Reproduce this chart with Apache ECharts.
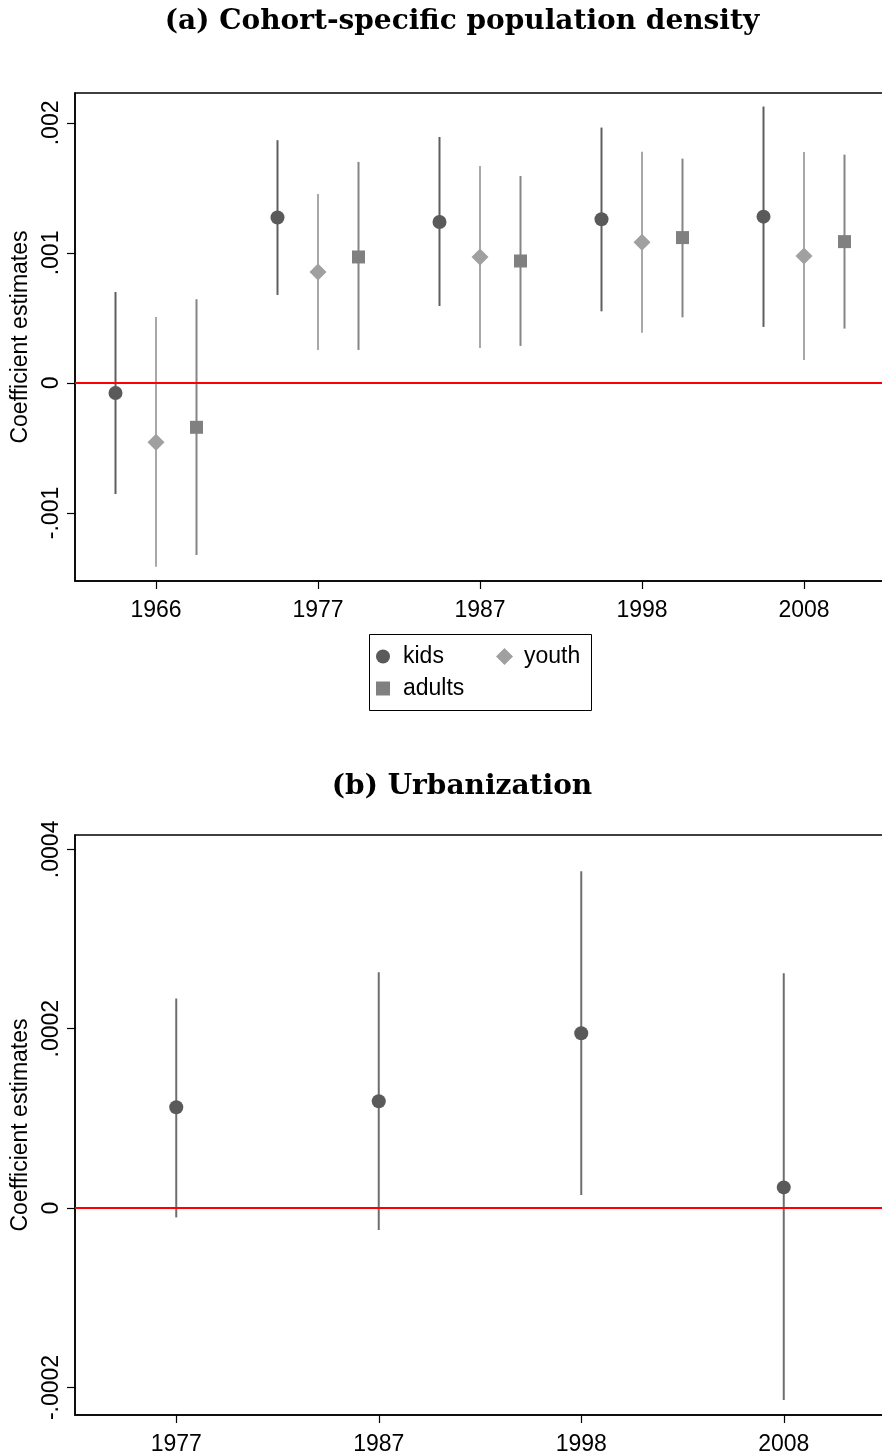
<!DOCTYPE html>
<html>
<head>
<meta charset="utf-8">
<script src="https://cdn.jsdelivr.net/npm/echarts@6/dist/echarts.min.js"></script>
<style>
  html, body { margin: 0; padding: 0; background: #fff; }
  #chart { width: 882px; height: 1456px; }
</style>
</head>
<body>
<div id="chart"></div>
<script>
// panel (a): cohort-specific population density
var yearsA = ['1966', '1977', '1987', '1998', '2008'];
var kidsCoef = [-0.000077, 0.001272, 0.001238, 0.001259, 0.001279];
var kidsLo = [-0.000854, 0.000677, 0.000592, 0.000551, 0.000431];
var kidsHi = [0.000700, 0.001867, 0.001892, 0.001964, 0.002126];
var youthCoef = [-0.000456, 0.000854, 0.000969, 0.001082, 0.000977];
var youthLo = [-0.001413, 0.000254, 0.000269, 0.000387, 0.000177];
var youthHi = [0.000508, 0.001454, 0.001669, 0.001779, 0.001777];
var adultsCoef = [-0.000341, 0.000969, 0.000938, 0.001118, 0.001087];
var adultsLo = [-0.001323, 0.000254, 0.000285, 0.000505, 0.000418];
var adultsHi = [0.000644, 0.001700, 0.001592, 0.001725, 0.001756];
var yTicksA = [-0.001, 0, 0.001, 0.002];
var yTickLabelsA = ['-.001', '0', '.001', '.002'];

// panel (b): urbanization
var yearsB = ['1977', '1987', '1998', '2008'];
var urbCoef = [0.0001125, 0.0001192, 0.000195, 0.0000231];
var urbLo = [-0.0000104, -0.0000245, 0.0000145, -0.000214];
var urbHi = [0.0002337, 0.000263, 0.0003755, 0.0002618];
var yTicksB = [-0.0002, 0, 0.0002, 0.0004];
var yTickLabelsB = ['-.0002', '0', '.0002', '.0004'];

var chart = echarts.init(document.getElementById('chart'));

var fontSans = 'Liberation Sans, Arial, sans-serif';
var diamond = 'path://M0,-1L1,0L0,1L-1,0Z';

function tickLabel(ticks, labels) {
    return function (v) {
        for (var i = 0; i < ticks.length; i++) {
            if (Math.abs(ticks[i] - v) < 1e-9) return labels[i];
        }
        return '';
    };
}

function points(coef, offset) {
    return coef.map(function (v, i) { return [i + offset, v]; });
}

function bars(lo, hi, offset) {
    return lo.map(function (v, i) { return [i + offset, v, hi[i]]; });
}

function errorBar(color) {
    return function (params, api) {
        var x = api.value(0);
        var p1 = api.coord([x, api.value(1)]);
        var p2 = api.coord([x, api.value(2)]);
        return {
            type: 'line',
            shape: { x1: p1[0], y1: p1[1], x2: p2[0], y2: p2[1] },
            style: { stroke: color, lineWidth: 2 }
        };
    };
}

function xAxis(grid, years) {
    var ticks = years.map(function (y, i) { return i; });
    return {
        type: 'value',
        gridIndex: grid,
        min: -0.5,
        max: years.length - 0.5,
        splitLine: { show: false },
        axisLine: { show: true, onZero: false, lineStyle: { color: '#000', width: 1.5 } },
        axisTick: { show: true, customValues: ticks, length: 8, lineStyle: { color: '#000', width: 1.2 } },
        axisLabel: {
            customValues: ticks,
            formatter: function (v) { return years[Math.round(v)]; },
            color: '#000', fontSize: 23, fontFamily: fontSans, margin: 18
        }
    };
}

function yAxis(grid, min, max, ticks, labels) {
    return {
        type: 'value',
        gridIndex: grid,
        min: min,
        max: max,
        name: 'Coefficient estimates',
        nameLocation: 'middle',
        nameRotate: 90,
        nameGap: 39,
        nameTextStyle: { color: '#000', fontSize: 23, fontFamily: fontSans },
        splitLine: { show: false },
        axisLine: { show: true, onZero: false, lineStyle: { color: '#000', width: 1.5 } },
        axisTick: { show: true, customValues: ticks, length: 8, lineStyle: { color: '#000', width: 1.2 } },
        axisLabel: {
            customValues: ticks,
            rotate: 90,
            formatter: tickLabel(ticks, labels),
            color: '#000', fontSize: 23, fontFamily: fontSans, margin: 12
        }
    };
}

var zeroLine = {
    silent: true,
    symbol: 'none',
    label: { show: false },
    lineStyle: { color: '#ff0000', width: 2, type: 'solid' },
    data: [{ yAxis: 0 }]
};

var series = [
    { type: 'custom', xAxisIndex: 0, yAxisIndex: 0, renderItem: errorBar('#5e5e5e'),
      encode: { x: 0, y: [1, 2] }, data: bars(kidsLo, kidsHi, -0.25), z: 3, silent: true },
    { type: 'custom', xAxisIndex: 0, yAxisIndex: 0, renderItem: errorBar('#a8a8a8'),
      encode: { x: 0, y: [1, 2] }, data: bars(youthLo, youthHi, 0), z: 3, silent: true },
    { type: 'custom', xAxisIndex: 0, yAxisIndex: 0, renderItem: errorBar('#858585'),
      encode: { x: 0, y: [1, 2] }, data: bars(adultsLo, adultsHi, 0.25), z: 3, silent: true },
    { name: 'kids', type: 'scatter', xAxisIndex: 0, yAxisIndex: 0, symbol: 'circle', symbolSize: 14,
      itemStyle: { color: '#5a5a5a', opacity: 1 }, data: points(kidsCoef, -0.25), z: 5,
      markLine: zeroLine },
    { name: 'youth', type: 'scatter', xAxisIndex: 0, yAxisIndex: 0, symbol: diamond, symbolSize: 17,
      itemStyle: { color: '#a0a0a0', opacity: 1 }, data: points(youthCoef, 0), z: 5 },
    { name: 'adults', type: 'scatter', xAxisIndex: 0, yAxisIndex: 0, symbol: 'rect', symbolSize: 13,
      itemStyle: { color: '#808080', opacity: 1 }, data: points(adultsCoef, 0.25), z: 5 },

    { type: 'custom', xAxisIndex: 1, yAxisIndex: 1, renderItem: errorBar('#6e6e6e'),
      encode: { x: 0, y: [1, 2] }, data: bars(urbLo, urbHi, 0), z: 3, silent: true },
    { name: 'urbanization', type: 'scatter', xAxisIndex: 1, yAxisIndex: 1, symbol: 'circle', symbolSize: 14,
      itemStyle: { color: '#5a5a5a', opacity: 1 }, data: points(urbCoef, 0), z: 5,
      markLine: zeroLine }
];

var legendText = { color: '#000', fontSize: 23, fontFamily: fontSans, padding: [0, 0, 0, 8] };

var option = {
    backgroundColor: '#fff',
    animation: false,
    title: [
        { text: '(a) Cohort-specific population density', left: 457, top: 3, textAlign: 'center',
          textStyle: { fontFamily: 'DejaVu Serif', fontWeight: 'bold', fontSize: 28, color: '#000' } },
        { text: '(b) Urbanization', left: 457, top: 768, textAlign: 'center',
          textStyle: { fontFamily: 'DejaVu Serif', fontWeight: 'bold', fontSize: 28, color: '#000' } }
    ],
    legend: [
        { data: ['kids'], left: 376, top: 645, itemWidth: 14, itemHeight: 14,
          padding: 0, selectedMode: false, textStyle: legendText },
        { data: ['youth'], left: 496, top: 645, itemWidth: 17, itemHeight: 17,
          padding: 0, selectedMode: false,
          textStyle: { color: '#000', fontSize: 23, fontFamily: fontSans, padding: [0, 0, 0, 6] } },
        { data: ['adults'], left: 376, top: 677, itemWidth: 14, itemHeight: 14,
          padding: 0, selectedMode: false, textStyle: legendText }
    ],
    graphic: [
        { type: 'rect', shape: { x: 369.5, y: 634.5, width: 222, height: 76 },
          style: { fill: 'none', stroke: '#000', lineWidth: 1 } }
    ],
    grid: [
        { left: 75, top: 93, width: 810, height: 488, show: true, borderColor: '#000', borderWidth: 1.5,
          outerBoundsMode: 'none' },
        { left: 75, top: 835, width: 810, height: 580, show: true, borderColor: '#000', borderWidth: 1.5,
          outerBoundsMode: 'none' }
    ],
    xAxis: [xAxis(0, yearsA), xAxis(1, yearsB)],
    yAxis: [
        yAxis(0, -0.001523, 0.00223, yTicksA, yTickLabelsA),
        yAxis(1, -0.0002307, 0.000416, yTicksB, yTickLabelsB)
    ],
    series: series
};

chart.setOption(option);
</script>
</body>
</html>
